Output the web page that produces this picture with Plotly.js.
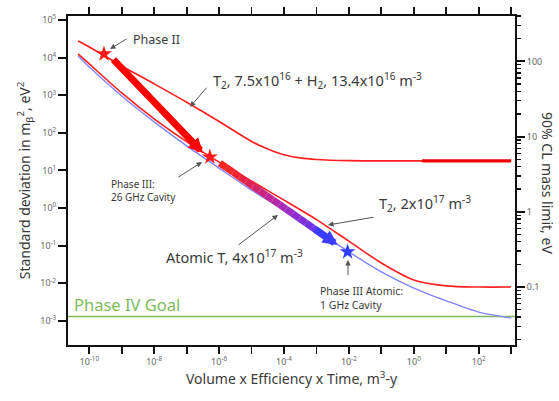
<!DOCTYPE html>
<html><head><meta charset="utf-8">
<script src="https://cdn.plot.ly/plotly-3.0.1.min.js"></script>
<style>html,body{margin:0;padding:0;background:#fff}</style>
</head><body><div id="chart" style="width:559px;height:401px"></div>
<script>
// ---------------- data ----------------
// exposure: Volume x Efficiency x Time (m^3-y)
const exposureUpper = [4.5e-11, 1e-10, 1e-9, 1e-8, 1e-7, 1e-6, 1e-5, 3.2e-5, 1e-4, 3.2e-4, 1e-3, 1e-2, 1, 1e3];
const sigmaT2H2 = [27500, 19000, 6000, 2000, 650, 200, 59, 37, 26, 21.4, 19.5, 18.2, 17.8, 17.8];

const exposure = [4.5e-11, 1e-10, 1e-9, 1e-8, 1e-7, 1e-6, 1e-5, 1e-4, 1e-3, 1e-2, 1e-1, 1, 10, 100, 1e3];
const sigmaT2 = [12600, 6800, 1150, 235, 58, 16.6, 5.2, 1.62, 0.49, 0.131, 0.0345, 0.0122, 0.0085, 0.0079, 0.0079];
const sigmaAtomic = [11000, 5600, 950, 195, 45, 11.5, 3.0, 0.89, 0.26, 0.068, 0.020, 0.0074, 0.0034, 0.0017, 0.00118];

const plateauX = [1.8, 1e3];
const plateauY = [17.8, 17.8];

const goalSigma = 1.3e-3;

const starX = [2.83e-10, 5.2e-7, 9.1e-3];
const starY = [12500, 22.7, 0.068];
const starColors = ['#ff1a1a', '#ff1a1a', '#2f3cff'];

const arrow1X = [5.0e-10, 3.2e-7];
const arrow1Y = [9700, 29];
const arrow2X = [1.05e-6, 4.5e-3];
const arrow2Y = [15.7, 0.104];
const arrow2Colors = ['#ff2a1a', '#e8213f', '#c42590', '#9a2cc8', '#6a34ea', '#3c3cff'];

const xTickVals = [1e-10, 1e-8, 1e-6, 1e-4, 1e-2, 1, 100];
const xTickText = ['10<sup>-10</sup>', '10<sup>-8</sup>', '10<sup>-6</sup>', '10<sup>-4</sup>', '10<sup>-2</sup>', '10<sup>0</sup>', '10<sup>2</sup>'];
const xMinorVals = [1e-9, 1e-7, 1e-5, 1e-3, 1e-1, 10, 1000];
const yTickVals = [1e5,1e4,1e3,1e2,1e1,1,1e-1,1e-2,1e-3];
const yTickText = ['10<sup>5</sup>','10<sup>4</sup>','10<sup>3</sup>','10<sup>2</sup>','10<sup>1</sup>','10<sup>0</sup>','10<sup>-1</sup>','10<sup>-2</sup>','10<sup>-3</sup>'];
const massTickVals = [0.1, 1, 10, 100];
const massTickText = ['0.1', '1', '10', '100'];

// ---------------- geometry ----------------
const XR = [-10.656, 3.119];
const YR = [-3.644, 5.106];
const Y2R = [(YR[0] + 0.1) / 2, (YR[1] + 0.1) / 2];
const PL = 68, PT = 16, PW = 447, PH = 329;
const px2paper = px => (px - PL) / PW;
const py2paper = py => 1 - (py - PT) / PH;

const minorMass = [];
[0.01, 0.1, 1, 10, 100].forEach(d => { for (let k = 2; k <= 9; k++) minorMass.push(+(k * d).toPrecision(3)); });

const RED = '#ff1f1f', BLUE = '#8383ff', GREEN = '#7cbc5c';

const traces = [];
traces.push({x: [Math.pow(10, XR[0]), Math.pow(10, XR[1])], y: [goalSigma, goalSigma], mode: 'lines',
  line: {color: GREEN, width: 1.6}, hoverinfo: 'skip'});
traces.push({x: exposureUpper, y: sigmaT2H2, mode: 'lines', line: {color: RED, width: 1.7, shape: 'spline', smoothing: 0.8}});
traces.push({x: exposure, y: sigmaT2, mode: 'lines', line: {color: RED, width: 1.6, shape: 'spline', smoothing: 0.8}});
traces.push({x: exposure, y: sigmaAtomic, mode: 'lines', line: {color: BLUE, width: 1.4, shape: 'spline', smoothing: 0.8}});
traces.push({x: plateauX, y: plateauY, mode: 'lines', line: {color: '#ee0000', width: 3.2}});

// gradient body of the Phase III -> Phase III atomic arrow
function hexToRgb(h) { return [1,3,5].map(i => parseInt(h.substr(i, 2), 16)); }
function colorAt(t) {
  const n = arrow2Colors.length - 1, s = Math.min(n - 1e-9, t * n), i = Math.floor(s), f = s - i;
  const a = hexToRgb(arrow2Colors[i]), b = hexToRgb(arrow2Colors[i + 1]);
  return 'rgb(' + a.map((v, k) => Math.round(v + (b[k] - v) * f)).join(',') + ')';
}
const a2lx = arrow2X.map(Math.log10), a2ly = arrow2Y.map(Math.log10);
const NSEG = 16, BODY_END = 0.9;
for (let i = 0; i < NSEG; i++) {
  const t0 = i / NSEG * BODY_END, t1 = (i + 1) / NSEG * BODY_END;
  traces.push({
    x: [t0, t1].map(t => Math.pow(10, a2lx[0] + t * (a2lx[1] - a2lx[0]))),
    y: [t0, t1].map(t => Math.pow(10, a2ly[0] + t * (a2ly[1] - a2ly[0]))),
    mode: 'lines', line: {color: colorAt((t0 + t1) / 2), width: 7}, hoverinfo: 'skip'
  });
}
traces.push({x: starX, y: starY, mode: 'markers', marker: {symbol: 'star', size: 12, color: starColors, line: {width: 0}}});
traces.push({x: [1], y: [1], yaxis: 'y2', mode: 'markers', marker: {opacity: 0}, hoverinfo: 'skip'});

const TXT = '#3a3a3a';
function label(px, py, text, size, color, anchor) {
  return {xref: 'paper', yref: 'paper', x: px2paper(px), y: py2paper(py), text: text, showarrow: false,
    xanchor: anchor || 'left', yanchor: 'middle', align: 'left', font: {size: size, color: color || TXT}};
}
function leader(tx, ty, sx, sy) {
  return {xref: 'paper', yref: 'paper', x: px2paper(tx), y: py2paper(ty), ax: sx - tx, ay: sy - ty, text: ' ',
    showarrow: true, arrowhead: 2, arrowsize: 1.1, arrowwidth: 1, arrowcolor: '#555', standoff: 0, font: {size: 1}};
}
const tPoint = t => [a2lx[0] + t * (a2lx[1] - a2lx[0]), a2ly[0] + t * (a2ly[1] - a2ly[0])];
const headStart = tPoint(0.8);

const annotations = [
  // thick arrows
  {xref: 'x', yref: 'y', axref: 'x', ayref: 'y', x: Math.log10(arrow1X[1]), y: Math.log10(arrow1Y[1]),
   ax: Math.log10(arrow1X[0]), ay: Math.log10(arrow1Y[0]), text: ' ', font: {size: 1}, showarrow: true, arrowhead: 2,
   arrowsize: 0.42, arrowwidth: 7, arrowcolor: '#ff0000', standoff: 0},
  {xref: 'x', yref: 'y', axref: 'x', ayref: 'y', x: a2lx[1], y: a2ly[1], ax: headStart[0], ay: headStart[1],
   text: ' ', font: {size: 1}, showarrow: true, arrowhead: 2, arrowsize: 0.42, arrowwidth: 7, arrowcolor: arrow2Colors[arrow2Colors.length - 1], standoff: 0},
  // labels
  label(131, 39, 'Phase II', 12.5),
  leader(110, 49, 128, 38),
  label(211, 80, 'T<sub>2</sub>, 7.5x10<sup>16</sup> + H<sub>2</sub>, 13.4x10<sup>16</sup> m<sup>-3</sup>', 14.5),
  leader(190, 107, 208, 86),
  label(109, 190, 'Phase III:<br>26 GHz Cavity', 10),
  leader(202, 162, 177, 178),
  label(164, 256, 'Atomic T, 4x10<sup>17</sup> m<sup>-3</sup>', 14.5),
  leader(278, 215, 237, 246),
  label(377, 203, 'T<sub>2</sub>, 2x10<sup>17</sup> m<sup>-3</sup>', 14.5),
  leader(328, 225, 375, 217),
  label(318, 298, 'Phase III Atomic:<br>1 GHz Cavity', 10.5),
  leader(348, 260, 348, 277),
  label(72, 304, 'Phase IV Goal', 16.5, GREEN),
  // right axis title
  {xref: 'paper', yref: 'paper', x: px2paper(548), y: py2paper(183), text: '90% CL mass limit, eV', showarrow: false,
   textangle: 90, xanchor: 'center', yanchor: 'middle', font: {size: 14, color: TXT}}
];

const axisCommon = {showgrid: false, zeroline: false, showline: true, linecolor: '#111', linewidth: 2,
  ticks: 'outside', tickcolor: '#111', tickfont: {size: 9, color: '#666'}};

const layout = {
  width: 559, height: 401,
  margin: {l: PL, r: 559 - PL - PW, t: PT, b: 401 - PT - PH, pad: 0},
  paper_bgcolor: '#fff', plot_bgcolor: '#fff', showlegend: false,
  font: {family: '"Noto Sans", "Open Sans", sans-serif', color: TXT},
  xaxis: Object.assign({}, axisCommon, {type: 'log', range: XR, tickmode: 'array', tickvals: xTickVals, ticktext: xTickText,
    ticklen: 7, tickwidth: 1.8, mirror: 'ticks',
    minor: {tickmode: 'array', tickvals: xMinorVals, ticks: 'outside', ticklen: 7, tickwidth: 1.8, tickcolor: '#111', showgrid: false},
    title: {text: 'Volume x Efficiency x Time, m<sup>3</sup>-y', font: {size: 14, color: TXT}, standoff: 4}}),
  yaxis: Object.assign({}, axisCommon, {type: 'log', range: YR, tickmode: 'array', tickvals: yTickVals, ticktext: yTickText,
    ticklen: 8, tickwidth: 2,
    title: {text: 'Standard deviation in m<sub>β</sub><sup>2</sup>, eV<sup>2</sup>', font: {size: 14, color: TXT}, standoff: 6}}),
  yaxis2: Object.assign({}, axisCommon, {type: 'log', overlaying: 'y', side: 'right', range: Y2R, tickmode: 'array',
    tickvals: massTickVals, ticktext: massTickText, ticklen: 8, tickwidth: 2,
    minor: {tickmode: 'array', tickvals: minorMass, ticks: 'outside', ticklen: 4, tickwidth: 1.3, tickcolor: '#111', showgrid: false}}),
  annotations: annotations
};

Plotly.newPlot('chart', traces, layout, {staticPlot: true, displayModeBar: false});
</script>
</body></html>
